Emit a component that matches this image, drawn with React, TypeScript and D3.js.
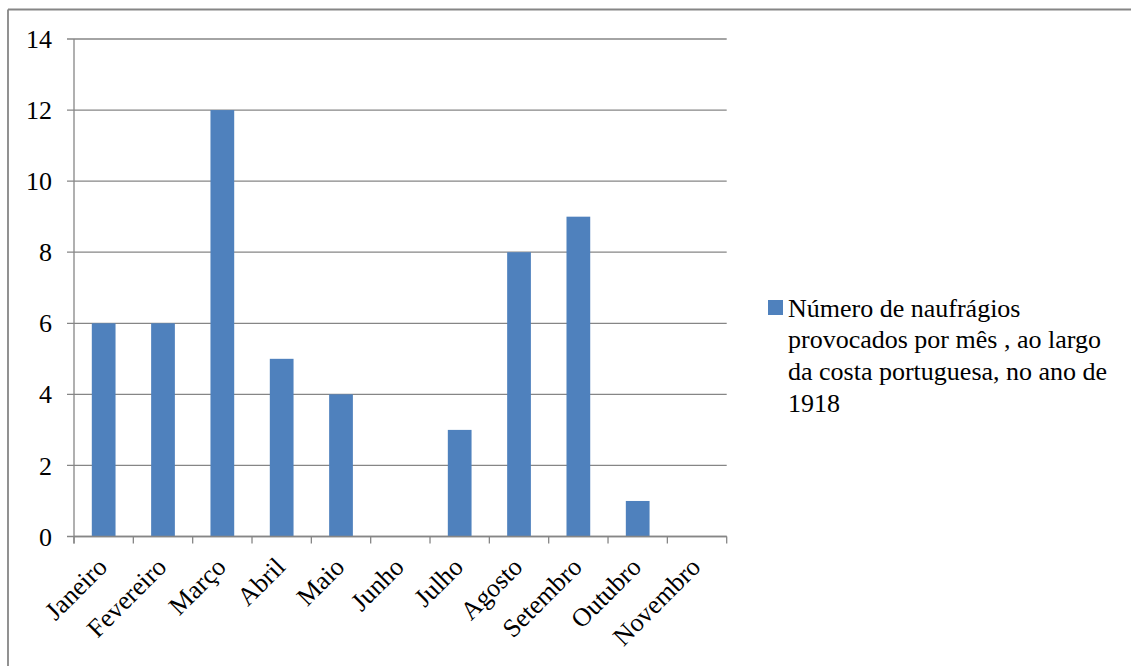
import React from "react";
import * as d3 from "d3";

// Shipwrecks per month off the Portuguese coast, 1918
const months = [
  "Janeiro", "Fevereiro", "Março", "Abril", "Maio", "Junho",
  "Julho", "Agosto", "Setembro", "Outubro", "Novembro",
];
const shipwrecks = [6, 6, 12, 5, 4, 0, 3, 8, 9, 1, 0];
const yTicks = [0, 2, 4, 6, 8, 10, 12, 14];
const seriesLabelLines = [
  "Número de naufrágios",
  "provocados por mês , ao largo",
  "da costa portuguesa, no ano de",
  "1918",
];

const W = 1131;
const H = 666;
const BAR = "#4F81BD";
const GRID = "#868686";
const textStyle = { fontFamily: '"Liberation Serif"', fontSize: "26px" };

export default function App() {
  const plotLeft = 74;
  const plotRight = 726.7;
  const plotTop = 39;
  const plotBottom = 536.5;

  const x = d3
    .scaleBand<string>()
    .domain(months)
    .range([plotLeft, plotRight])
    .paddingInner(0.6)
    .paddingOuter(0.3);

  const y = d3.scaleLinear().domain([0, 14]).range([plotBottom, plotTop]);

  // category boundaries for tick marks
  const step = (plotRight - plotLeft) / months.length;
  const boundaries = d3.range(months.length + 1).map((i) => plotLeft + i * step);

  return (
    <div style={{ position: "absolute", left: 0, top: 0, width: W, height: H, overflow: "hidden" }}>
      <svg width={W} height={H} style={{ display: "block", background: "#fff" }}>
        {/* chart frame */}
        <line x1={8} y1={9.5} x2={W + 10} y2={9.5} stroke={GRID} strokeWidth={1.8} />
        <line x1={8} y1={9.5} x2={8} y2={H + 10} stroke={GRID} strokeWidth={1.8} />

        {/* horizontal gridlines with left tick stubs */}
        {yTicks.map((t) => (
          <line
            key={"g" + t}
            x1={plotLeft - 7}
            x2={plotRight}
            y1={y(t)}
            y2={y(t)}
            stroke={GRID}
            strokeWidth={1.3}
          />
        ))}

        {/* bars */}
        {months.map((m, i) => (
          <rect
            key={m}
            x={x(m)}
            y={y(shipwrecks[i])}
            width={x.bandwidth()}
            height={plotBottom - y(shipwrecks[i])}
            fill={BAR}
          />
        ))}

        {/* value axis */}
        <line x1={plotLeft} x2={plotLeft} y1={plotTop} y2={plotBottom + 7} stroke={GRID} strokeWidth={1.3} />
        {/* category axis */}
        <line x1={plotLeft} x2={plotRight} y1={plotBottom} y2={plotBottom} stroke={GRID} strokeWidth={1.3} />
        {boundaries.map((bx, i) => (
          <line key={"t" + i} x1={bx} x2={bx} y1={plotBottom} y2={plotBottom + 7} stroke={GRID} strokeWidth={1.3} />
        ))}

        {/* y tick labels */}
        {yTicks.map((t) => (
          <text
            key={"yl" + t}
            x={52}
            y={y(t)}
            dy="0.35em"
            textAnchor="end"
            style={textStyle}
            fill="#000"
          >
            {t}
          </text>
        ))}

        {/* x tick labels */}
        {months.map((m) => {
          const cx = (x(m) as number) + x.bandwidth() / 2;
          return (
            <text
              key={"xl" + m}
              transform={`translate(${cx + 5},${plotBottom + 32}) rotate(-45)`}
              textAnchor="end"
              style={textStyle}
              fill="#000"
            >
              {m}
            </text>
          );
        })}

        {/* legend */}
        <rect x={768} y={300} width={15} height={15} fill={BAR} />
        <text x={788} y={316.5} style={textStyle} fill="#000">
          {seriesLabelLines.map((line, i) => (
            <tspan key={i} x={788} dy={i === 0 ? 0 : 31.7}>
              {line}
            </tspan>
          ))}
        </text>
      </svg>
    </div>
  );
}
